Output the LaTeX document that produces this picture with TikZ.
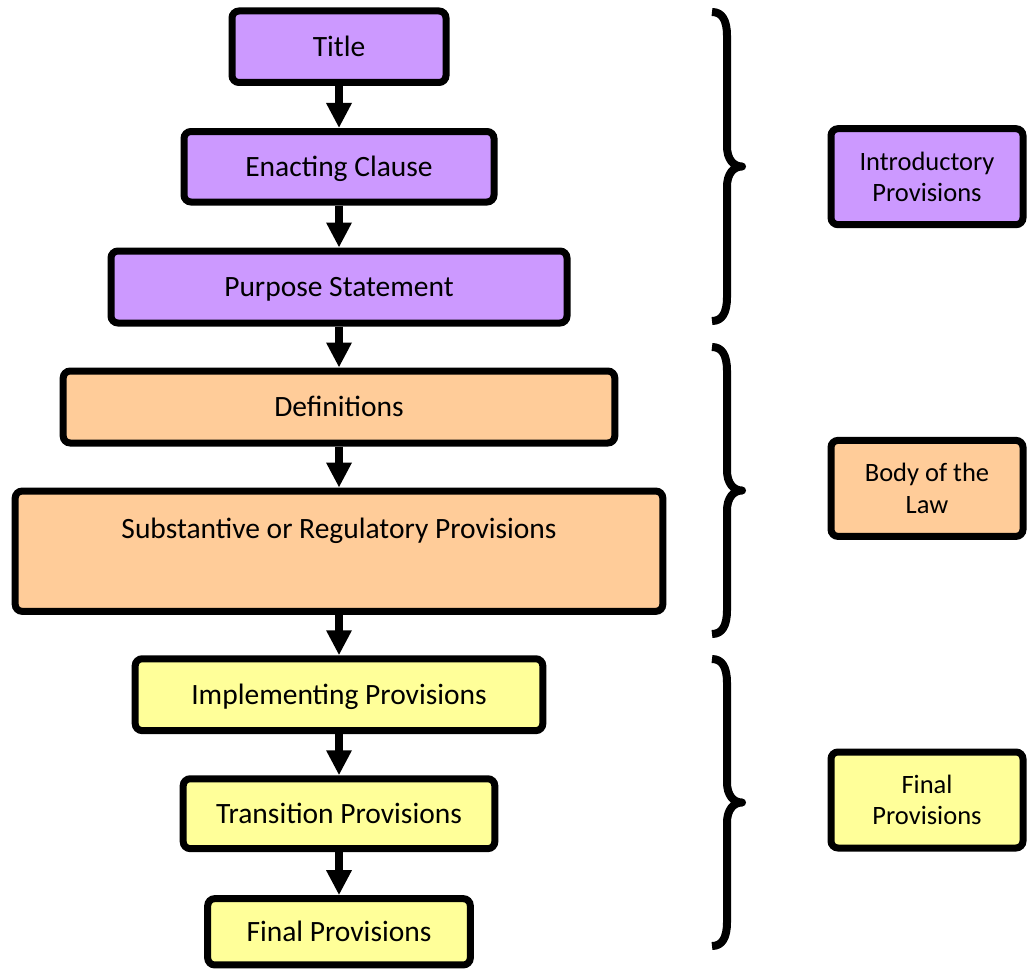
\documentclass[tikz,border=0pt]{standalone}
\usepackage{fontspec}
\setmainfont{Carlito}
\usetikzlibrary{arrows.meta}
\definecolor{purp}{HTML}{CC99FF}
\definecolor{oran}{HTML}{FFCC99}
\definecolor{yell}{HTML}{FFFF99}
\newcommand\drawcurly[2]{%
  \pgfmathsetmacro\bmid{(#1+#2)/2}%
  \draw[brc] (712,#1) .. controls (722,#1) and (727,#1+8) .. (727,#1+24)
    -- (727,\bmid-20) .. controls (727,\bmid-8) and (733,\bmid) .. (742,\bmid)
    .. controls (733,\bmid) and (727,\bmid+8) .. (727,\bmid+20)
    -- (727,#2-24) .. controls (727,#2-8) and (722,#2) .. (712,#2);}
\begin{document}
\begin{tikzpicture}[x=1pt,y=-1pt,
  box/.style={draw=black, line width=7pt, rounded corners=7pt, inner sep=0pt,
    text height=18.6pt, text depth=0pt, font=\fontsize{29.5}{35}\selectfont},
  side/.style={draw=black, line width=7pt, rounded corners=7pt, inner sep=0pt,
    minimum width=192pt, minimum height=96pt, align=center,
    font=\fontsize{26.5}{31.3}\selectfont},
  arr/.style={line width=7.5pt, -{Triangle[width=24pt,length=25pt]}},
  brc/.style={line width=8pt, line join=round}]
\useasboundingbox (0,0) rectangle (1032,971);

\node[box, fill=purp, minimum width=214pt, minimum height=71.5pt] (title) at (339,46.75) {Title};
\node[box, fill=purp, minimum width=310pt, minimum height=70.5pt] (enact) at (339,166.75) {Enacting Clause};
\node[box, fill=purp, minimum width=456pt, minimum height=72pt] (purpose) at (339,287) {Purpose Statement};
\node[box, fill=oran, minimum width=551.6pt, minimum height=72pt] (defs) at (339,407) {Definitions};
\node[box, fill=oran, minimum width=647.6pt, minimum height=120.3pt, text depth=44.4pt] (subst) at (339,551.2) {Substantive or Regulatory Provisions};
\node[box, fill=yell, minimum width=407.6pt, minimum height=71.9pt] (impl) at (339,694.7) {Implementing Provisions};
\node[box, fill=yell, minimum width=311.6pt, minimum height=69.9pt] (trans) at (339,813.7) {Transition Provisions};
\node[box, fill=yell, minimum width=262.6pt, minimum height=66.3pt] (final) at (339,931.8) {Final Provisions};

\draw[arr] (title) -- (enact);
\draw[arr] (enact) -- (purpose);
\draw[arr] (purpose) -- (defs);
\draw[arr] (defs) -- (subst);
\draw[arr] (subst) -- (impl);
\draw[arr] (impl) -- (trans);
\draw[arr] (trans) -- (final);

\node[side, fill=purp] (intro) at (927,176.7) {Introductory\\Provisions};
\node[side, fill=oran] (body) at (927,488.4) {Body of the\\Law};
\node[side, fill=yell] (finalgrp) at (927,800) {Final\\Provisions};

\drawcurly{12}{321}
\drawcurly{347}{634}
\drawcurly{659}{946}
\end{tikzpicture}
\end{document}
